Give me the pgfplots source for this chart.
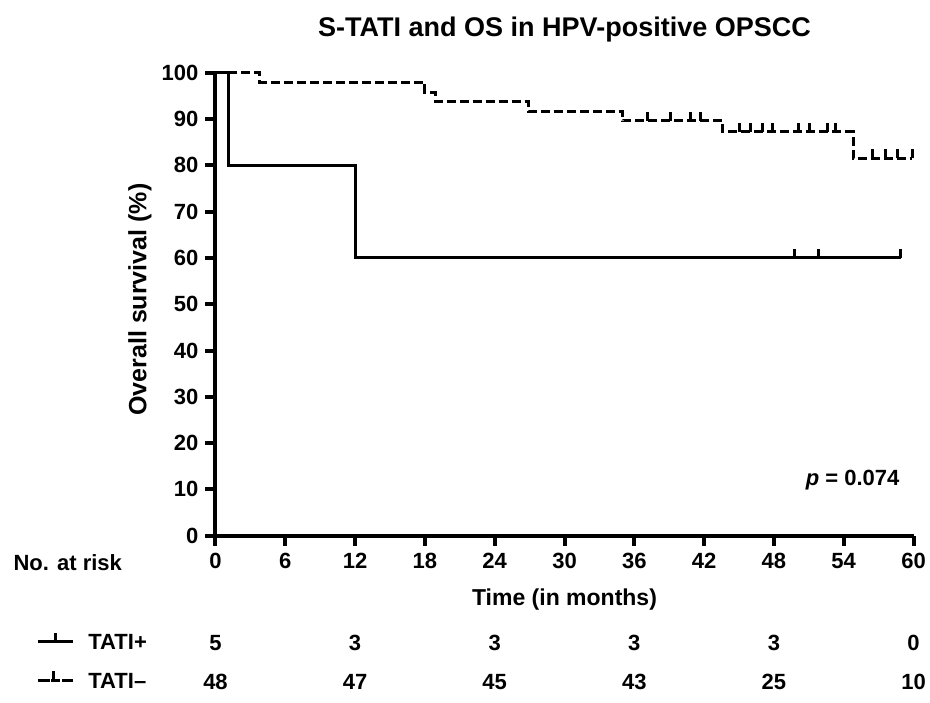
\documentclass[border=0pt]{standalone}
\usepackage{fontspec}
\setmainfont{Liberation Sans}
\usepackage{pgfplots}
\pgfplotsset{compat=1.18}

% censor tick: a short stroke upwards from the curve
\pgfdeclareplotmark{cens}{%
  \pgfpathmoveto{\pgfqpoint{0pt}{0pt}}%
  \pgfpathlineto{\pgfqpoint{0pt}{\pgfplotmarksize}}%
  \pgfusepathqstroke}

\pgfplotsset{
  legplus/.style={legend image code/.code={
      \draw[##1] (0pt,0pt) -- (17.5pt,0pt);
      \draw[##1] (8.75pt,0pt) -- (8.75pt,4.5pt);}},
  legminus/.style={legend image code/.code={
      \draw[##1,solid] (0pt,0pt) -- (6pt,0pt);
      \draw[##1,solid] (8pt,4.5pt) -- (8pt,0pt) -- (10.5pt,0pt);
      \draw[##1,solid] (12pt,0pt) -- (13pt,0pt);
      \path (0pt,0pt) -- (17.5pt,0pt);}},
}

\newcommand{\lbl}{\bfseries\fontsize{11}{13}\selectfont}

\begin{document}
\begin{tikzpicture}
\useasboundingbox (-107.75pt,-83.15pt) rectangle (357.25pt,267.85pt);
\begin{axis}[
    scale only axis,
    width=349pt, height=231.5pt,
    xmin=0, xmax=60, ymin=0, ymax=100,
    axis lines=left,
    axis line style={-, line width=2pt},
    xtick={0,6,12,18,24,30,36,42,48,54,60},
    ytick={0,10,20,30,40,50,60,70,80,90,100},
    tick align=outside,
    major tick length=5pt,
    tick style={line width=2pt, black},
    ticklabel style={font=\lbl},
    xticklabel style={text height=8pt, text depth=0pt},
    /pgf/number format/assume math mode=true,
    clip=false,
    xlabel={Time (in months)},
    ylabel={Overall survival (\%)},
    xlabel style={font=\bfseries\fontsize{11.5}{13}\selectfont, at={(axis description cs:0.5,0)}, anchor=center, yshift=-32pt},
    ylabel style={font=\bfseries\fontsize{12.5}{14}\selectfont, at={(axis description cs:0,0.51)}, anchor=center, yshift=37.75pt},
    legend style={at={([xshift=-89.75pt,yshift=-61.9pt]axis description cs:0,0)},
        anchor=west, draw=none, fill=none, inner sep=0pt,
        font=\lbl, column sep=7pt, row sep=10pt,
        nodes={inner sep=0pt, text height=8pt, text depth=0pt}},
    legend cell align=left,
]
% TATI+
\addplot[const plot, line width=1.5pt, legplus]
    coordinates {(0,100) (1.1,80) (12,60) (58.9,60)};
\addlegendentry{TATI+}
% TATI-
\addplot[const plot, line width=1.5pt, dash pattern=on 4.5pt off 2pt, legminus]
    coordinates {(0,100) (3.8,97.9) (18.0,95.8) (18.9,93.75) (26.9,91.7)
        (35.0,89.6) (43.6,87.2) (54.8,81.5) (59.9,81.5)};
\addlegendentry{TATI--}

% censored observations
\addplot[only marks, mark=cens, mark size=4.5pt, line width=1.5pt, forget plot]
    coordinates {(49.8,60) (51.8,60) (58.9,60)};
\addplot[only marks, mark=cens, mark size=4.5pt, line width=1.5pt, forget plot]
    coordinates {(37.1,89.6) (39.1,89.6) (40.8,89.6) (41.7,89.6)
        (45.0,87.2) (46.0,87.2) (47.0,87.2) (47.9,87.2)
        (50.1,87.2) (51.1,87.2) (52.6,87.2) (53.3,87.2)
        (56.5,81.5) (57.6,81.5) (58.6,81.5) (59.9,81.5)};

% title, p value, risk table
\node[font=\bfseries\fontsize{13.5}{16}\selectfont] at ([yshift=21.35pt]rel axis cs:0.5,1)
    {S-TATI and OS in HPV-positive OPSCC};
\node[font=\lbl, anchor=east] at (axis cs:59.4,12) {\textit{p} = 0.074};
\node[font=\lbl, anchor=west] at ([xshift=-104.5pt,yshift=-13.5pt]rel axis cs:0,0) {No. at risk};

\node[font=\lbl] at ([yshift=-53.6pt]axis cs:0,0) {5};
\node[font=\lbl] at ([yshift=-53.6pt]axis cs:12,0) {3};
\node[font=\lbl] at ([yshift=-53.6pt]axis cs:24,0) {3};
\node[font=\lbl] at ([yshift=-53.6pt]axis cs:36,0) {3};
\node[font=\lbl] at ([yshift=-53.6pt]axis cs:48,0) {3};
\node[font=\lbl] at ([yshift=-53.6pt]axis cs:60,0) {0};

\node[font=\lbl] at ([yshift=-73.2pt]axis cs:0,0) {48};
\node[font=\lbl] at ([yshift=-73.2pt]axis cs:12,0) {47};
\node[font=\lbl] at ([yshift=-73.2pt]axis cs:24,0) {45};
\node[font=\lbl] at ([yshift=-73.2pt]axis cs:36,0) {43};
\node[font=\lbl] at ([yshift=-73.2pt]axis cs:48,0) {25};
\node[font=\lbl] at ([yshift=-73.2pt]axis cs:60,0) {10};
\end{axis}
\end{tikzpicture}
\end{document}
